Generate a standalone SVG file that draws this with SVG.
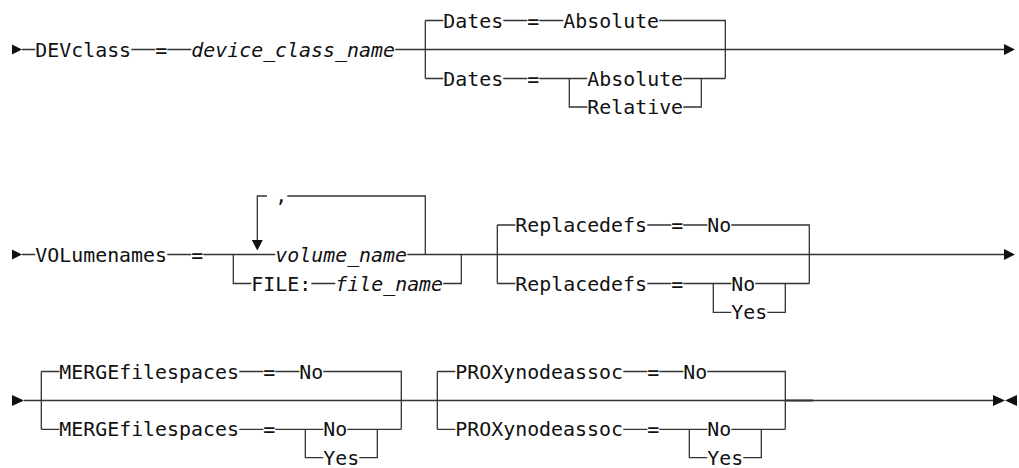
<svg xmlns="http://www.w3.org/2000/svg" width="1019" height="468" viewBox="0 0 1019 468">
<style>
text{font-family:"DejaVu Sans Mono","Liberation Mono",monospace;font-size:19.9px;fill:#111}
.v{font-style:italic}
.c{fill:none;stroke:#333;stroke-width:1.3}
.a{fill:#111;stroke:none}
</style>
<rect width="1019" height="468" fill="#fff"/>
<g id="connectors">
  <g class="c">
    <path d="M22,49.5H35.3M131.3,49.5H155.3M167.3,49.5H191.3M395.3,49.5H1004"/>
    <path d="M425.3,20.5V78.5M425.3,20.5H443.3M503.3,20.5H527.3M539.3,20.5H563.3M659.3,20.5H725.3V78.5"/>
    <path d="M425.3,78.5H443.3M503.3,78.5H527.3M539.3,78.5H587.3M683.3,78.5H725.3"/>
    <path d="M569.3,78.5V107H587.3M683.3,107H701.3V78.5"/>
    <path d="M22,254.5H35.3M167.3,254.5H191.3M203.3,254.5H275.3M407.3,254.5H1004"/>
    <path d="M257.3,241V196H267M287.3,196H425.3V254.5"/>
    <path d="M233.3,254.5V283.5H251.3M311.3,283.5H335.3M443.3,283.5H461.3V254.5"/>
    <path d="M497.3,225V283.5M497.3,225H515.3M647.3,225H671.3M683.3,225H707.3M731.3,225H809.3V283.5"/>
    <path d="M497.3,283.5H515.3M647.3,283.5H671.3M683.3,283.5H731.3M755.3,283.5H809.3"/>
    <path d="M713.3,283.5V312.3H731.3M767.3,312.3H785.3V283.5"/>
    <path d="M24,400.5H993"/>
    <path d="M41.3,371.5V429.3M41.3,371.5H59.3M239.3,371.5H263.3M275.3,371.5H299.3M323.3,371.5H401.3V429.3"/>
    <path d="M41.3,429.3H59.3M239.3,429.3H263.3M275.3,429.3H323.3M347.3,429.3H401.3"/>
    <path d="M305.3,429.3V457.7H323.3M359.3,457.7H377.3V429.3"/>
    <path d="M437.3,371.5V429.3M437.3,371.5H455.3M623.3,371.5H647.3M659.3,371.5H683.3M707.3,371.5H785.3V429.3"/>
    <path d="M437.3,429.3H455.3M623.3,429.3H647.3M659.3,429.3H707.3M731.3,429.3H785.3"/>
    <path d="M689.3,429.3V457.7H707.3M743.3,457.7H761.3V429.3"/>
    <path d="M786,400.5H813" stroke-width="2"/>
  </g>
  <g class="a">
    <polygon points="12,44.5 22,49.5 12,54.5"/>
    <polygon points="1004,44 1015,49.5 1004,55"/>
    <polygon points="12,249.5 22,254.5 12,259.5"/>
    <polygon points="251.8,240 262.8,240 257.3,250.5"/>
    <polygon points="1004,249 1015,254.5 1004,260"/>
    <polygon points="12,395 24,400.5 12,406"/>
    <polygon points="993,395 1005,400.5 993,406"/>
    <polygon points="1017,395 1005,400.5 1017,406"/>
  </g>
</g>
<g id="devclass">
  <text x="35.3" y="56.5">DEVclass</text>
  <text x="155.3" y="56.5">=</text>
  <text class="v" x="191.3" y="56.5">device_class_name</text>
</g>
<g id="dates-default">
  <text x="443.3" y="27.5">Dates</text>
  <text x="527.3" y="27.5">=</text>
  <text x="563.3" y="27.5">Absolute</text>
</g>
<g id="dates-choice">
  <text x="443.3" y="85.5">Dates</text>
  <text x="527.3" y="85.5">=</text>
  <text x="587.3" y="85.5">Absolute</text>
  <text x="587.3" y="114">Relative</text>
</g>
<g id="volumenames">
  <text x="35.3" y="261.5">VOLumenames</text>
  <text x="191.3" y="261.5">=</text>
  <text x="275.3" y="202">,</text>
  <text class="v" x="275.3" y="261.5">volume_name</text>
  <text x="251.3" y="290.5">FILE:</text>
  <text class="v" x="335.3" y="290.5">file_name</text>
</g>
<g id="replacedefs-default">
  <text x="515.3" y="232">Replacedefs</text>
  <text x="671.3" y="232">=</text>
  <text x="707.3" y="232">No</text>
</g>
<g id="replacedefs-choice">
  <text x="515.3" y="290.5">Replacedefs</text>
  <text x="671.3" y="290.5">=</text>
  <text x="731.3" y="290.5">No</text>
  <text x="731.3" y="319.3">Yes</text>
</g>
<g id="mergefilespaces-default">
  <text x="59.3" y="378.5">MERGEfilespaces</text>
  <text x="263.3" y="378.5">=</text>
  <text x="299.3" y="378.5">No</text>
</g>
<g id="mergefilespaces-choice">
  <text x="59.3" y="436.3">MERGEfilespaces</text>
  <text x="263.3" y="436.3">=</text>
  <text x="323.3" y="436.3">No</text>
  <text x="323.3" y="464.6">Yes</text>
</g>
<g id="proxynodeassoc-default">
  <text x="455.3" y="378.5">PROXynodeassoc</text>
  <text x="647.3" y="378.5">=</text>
  <text x="683.3" y="378.5">No</text>
</g>
<g id="proxynodeassoc-choice">
  <text x="455.3" y="436.3">PROXynodeassoc</text>
  <text x="647.3" y="436.3">=</text>
  <text x="707.3" y="436.3">No</text>
  <text x="707.3" y="464.6">Yes</text>
</g>
</svg>
